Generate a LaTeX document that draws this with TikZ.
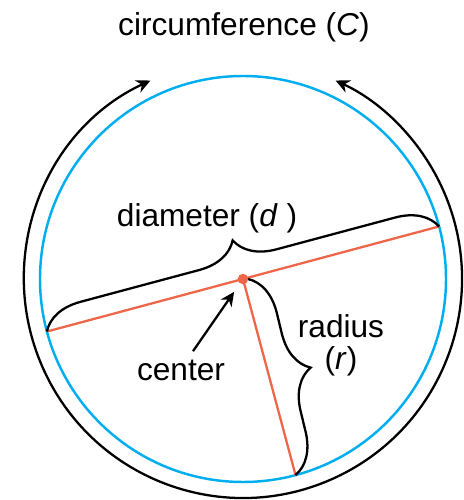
\documentclass[tikz,border=0pt]{standalone}
\usepackage{fontspec}
\setmainfont{Liberation Sans}
\usetikzlibrary{arrows.meta,decorations.pathreplacing,calc}
\definecolor{circblue}{HTML}{00AEEF}
\definecolor{radred}{HTML}{EF6548}

\begin{document}
\begin{tikzpicture}[
    lbl/.style={font=\fontsize{18}{18.5}\selectfont, inner sep=0pt, align=center},
    rim/.style={draw=circblue, line width=1.4pt, circle, inner sep=0pt, outer sep=0pt},
    seg/.style={draw=radred, line width=1.3pt},
    brc/.style={draw=black, line width=1.3pt, decorate, decoration={brace, amplitude=0.8cm}},
    circarrow/.style={draw=black, line width=1.3pt, {Stealth[length=8pt,width=7.5pt]}-{Stealth[length=8pt,width=7.5pt]}},
    ptr/.style={draw=black, line width=1.3pt, -{Stealth[length=8pt,width=7.5pt]}}
]
\useasboundingbox (-4.86,-4.42) rectangle (4.40,5.58);

% --- circle ---
\node[rim, minimum size=8.12cm] (circ) at (0,0) {};

% --- diameter and radius ---
\draw[seg] (circ.195) -- (circ.15);
\draw[seg] (circ.center) -- (circ.285);

% --- circumference arrow ---
\draw[circarrow] (115:4.38) arc[start angle=115, end angle=425, radius=4.38cm];

% --- braces ---
\draw[brc] (circ.195) -- (circ.15);
\draw[brc] ([shift={(0.1,0)}]circ.center) -- (circ.285);

% --- center point ---
\node[circle, fill=radred, minimum size=0.21cm, inner sep=0pt] (dot) at (circ.center) {};

% --- labels ---
\node[lbl, anchor=base] (circlbl) at (0.02,4.86) {circumference (\textit{C})};
\node[lbl, anchor=base] (diamlbl) at (-0.72,1.04) {diameter (\textit{d} )};
\node[lbl, anchor=base] (ctrlbl) at (-1.24,-2.02) {center};
\node[lbl, anchor=north] (radlbl) at (1.96,-0.70) {radius\\(\textit{r})};

% --- pointer to center ---
\draw[ptr, shorten >=0.2cm] ([xshift=0.24cm,yshift=0.16cm]ctrlbl.north) -- (dot);

\end{tikzpicture}
\end{document}
